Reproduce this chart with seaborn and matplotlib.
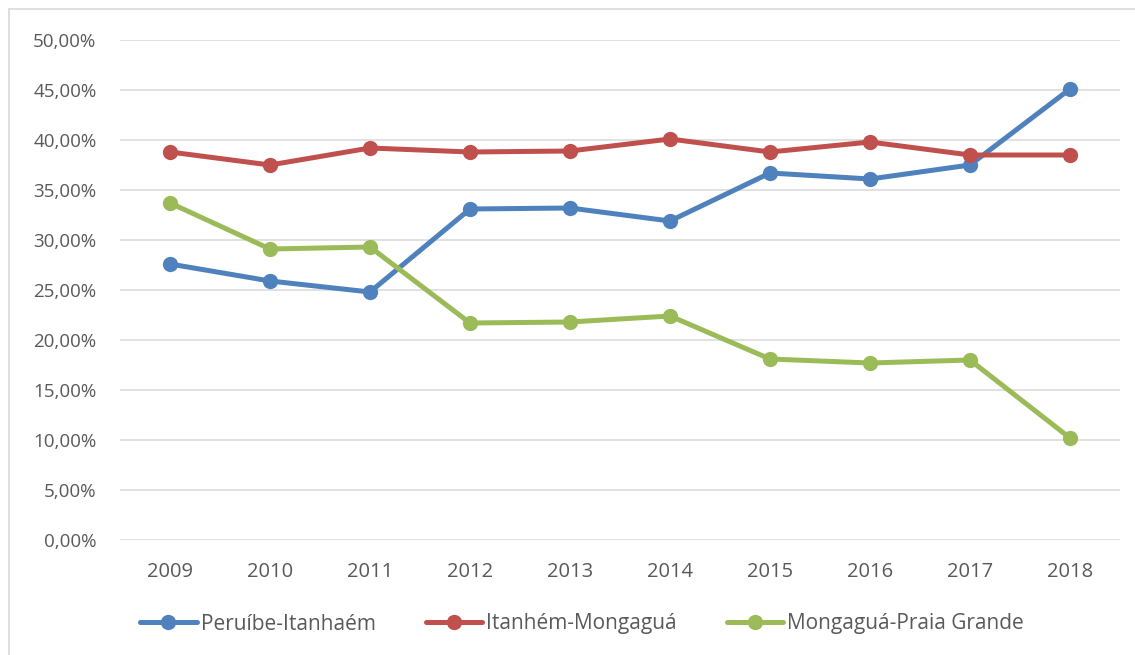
import matplotlib
matplotlib.use("Agg")
import matplotlib.pyplot as plt
from matplotlib.lines import Line2D
from matplotlib.ticker import FuncFormatter
import seaborn as sns
import pandas as pd

years = ["2009", "2010", "2011", "2012", "2013", "2014", "2015", "2016", "2017", "2018"]
peruibe_itanhaem = [27.6, 25.9, 24.8, 33.1, 33.2, 31.9, 36.7, 36.1, 37.5, 45.1]
itanhem_mongagua = [38.8, 37.5, 39.2, 38.8, 38.9, 40.1, 38.8, 39.8, 38.5, 38.5]
mongagua_praia_grande = [33.7, 29.1, 29.3, 21.7, 21.8, 22.4, 18.1, 17.7, 18.0, 10.2]
series_names = ["Peruíbe-Itanhaém", "Itanhém-Mongaguá", "Mongaguá-Praia Grande"]
colors = ["#4F81BD", "#C0504D", "#9BBB59"]

sns.set_theme(style="white")
plt.rcParams["font.family"] = ["Open Sans", "DejaVu Sans"]

rows = []
for name, vals in zip(series_names, [peruibe_itanhaem, itanhem_mongagua, mongagua_praia_grande]):
    for i, (yr, v) in enumerate(zip(years, vals)):
        rows.append({"pos": i, "year": yr, "value": v / 100.0, "series": name})
df = pd.DataFrame(rows)

W, H = 1135, 655
fig = plt.figure(figsize=(W / 100, H / 100), dpi=100)
ax = fig.add_axes([120 / W, 1 - 540 / H, 1000 / W, 500 / H])

sns.lineplot(data=df, x="pos", y="value", hue="series", hue_order=series_names,
             palette=colors, marker="o", markersize=11, markeredgewidth=0,
             linewidth=3.6, ax=ax, legend=False, zorder=3)

ax.set_xlim(-0.5, 9.5)
ax.set_ylim(0, 0.5)
ax.set_yticks([i * 0.05 for i in range(11)])
ax.yaxis.set_major_formatter(FuncFormatter(lambda v, p: f"{v * 100:.2f}%".replace(".", ",")))
ax.set_xticks(range(len(years)))
ax.set_xticklabels(years)
ax.set_xlabel("")
ax.set_ylabel("")
ax.grid(axis="y", color="#D9D9D9", linewidth=1.1)
ax.grid(axis="x", visible=False)
for s in ax.spines.values():
    s.set_visible(False)
ax.tick_params(axis="both", length=0, colors="#595959")
ax.tick_params(axis="y", pad=17, labelsize=13.5)
ax.tick_params(axis="x", pad=16, labelsize=14.5)

handles = [Line2D([0], [0], color=c, linewidth=3.6, marker="o", markersize=11,
                  markeredgewidth=0) for c in colors]
leg = fig.legend(handles, series_names, loc="center", bbox_to_anchor=(582 / W, 1 - 624 / H),
                 ncol=3, frameon=False, fontsize=15, handlelength=2.7, columnspacing=2.4,
                 handletextpad=0.2)
for t in leg.get_texts():
    t.set_color("#595959")

# chart frame (left and top edges)
fig.add_artist(Line2D([8.5 / W, 8.5 / W], [0, 1 - 8.5 / H], transform=fig.transFigure,
                      color="#D9D9D9", linewidth=1.2))
fig.add_artist(Line2D([8.5 / W, 1], [1 - 8.5 / H, 1 - 8.5 / H], transform=fig.transFigure,
                      color="#D9D9D9", linewidth=1.2))

fig.savefig("out.png", dpi=100)
